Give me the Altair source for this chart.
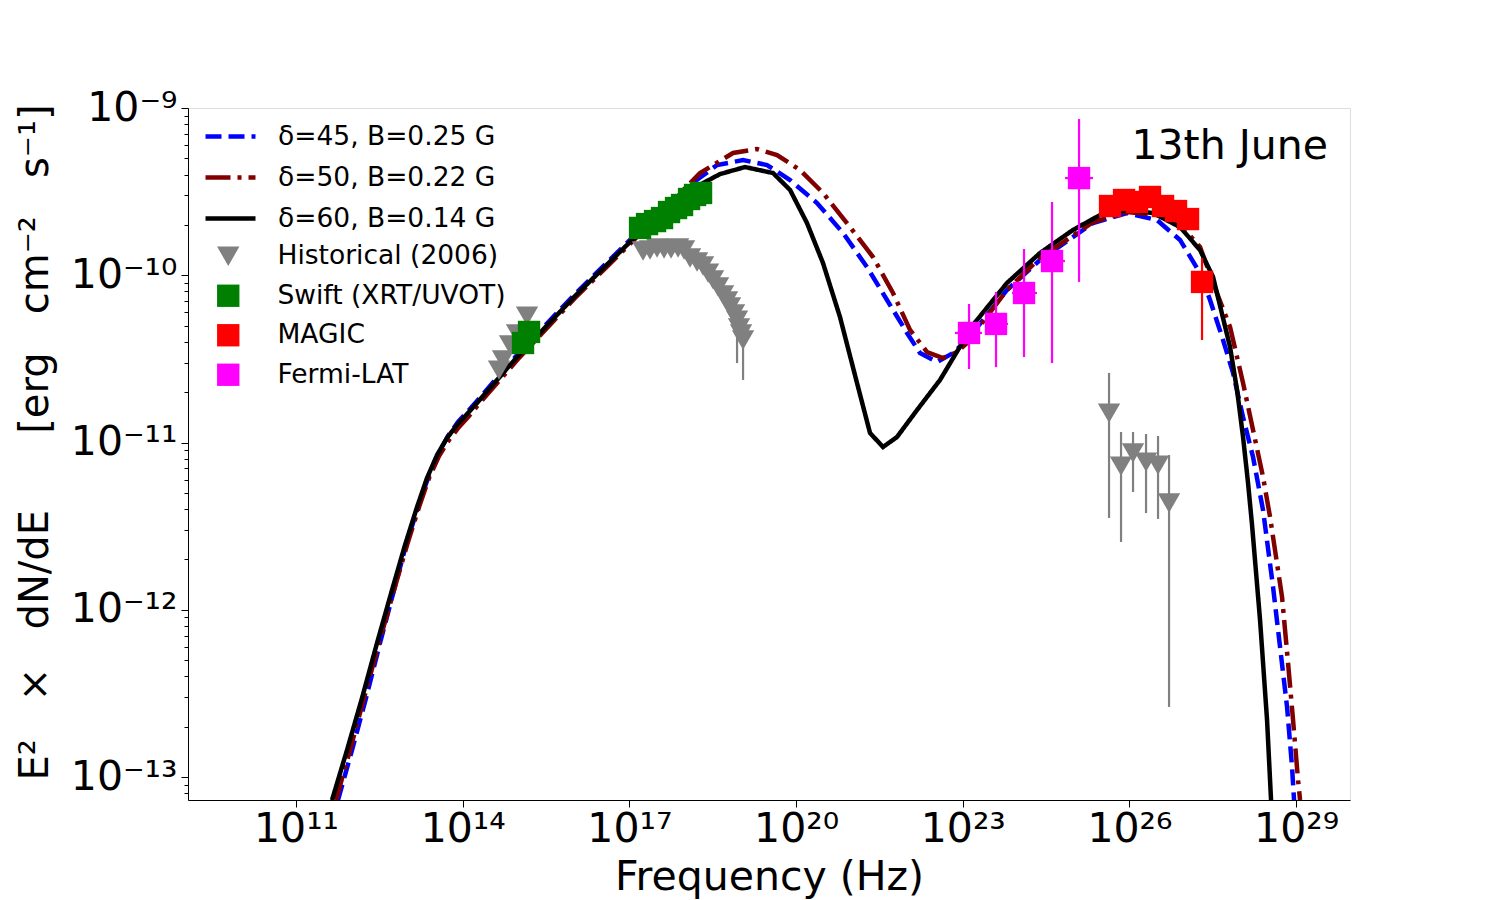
import altair as alt
import pandas as pd

FONT = "DejaVu Sans"

# ---------------- model curves: log10(nu / Hz), log10(nuFnu / erg cm^-2 s^-1) ----------------
models = ["δ=45, B=0.25 G", "δ=50, B=0.22 G", "δ=60, B=0.14 G"]
model_colors = ["#0000ff", "#800000", "#000000"]
model_dash = [[16, 7], [25, 7, 4, 7], [1, 0]]

m45_lognu = [11.756, 12.008, 12.260, 12.512, 12.764, 12.980, 13.196, 13.376, 13.556, 13.736,
             13.916, 14.096, 14.258, 14.618, 14.978, 16.022, 17.048,
             18.092, 18.578, 19.046, 19.478, 19.892, 20.377, 20.845, 21.277,
             21.637, 21.997, 22.231, 22.537, 22.825, 23.077, 23.797, 24.391, 25.345, 25.957,
             26.497, 26.911, 27.271, 27.451, 27.685, 27.865, 28.045, 28.225, 28.405, 28.585,
             28.711, 28.837, 28.927, 28.963]
m45_logf = [-13.138, -12.839, -12.528, -12.199, -11.882, -11.613, -11.386, -11.212, -11.069, -10.961,
            -10.877, -10.812, -10.752, -10.614, -10.477, -10.112, -9.777,
            -9.460, -9.341, -9.311, -9.341, -9.431, -9.568, -9.747, -9.951,
            -10.148, -10.345, -10.465, -10.519, -10.465, -10.387, -10.088, -9.909, -9.688, -9.628,
            -9.670, -9.789, -9.987, -10.148, -10.387, -10.584, -10.848, -11.087, -11.404, -11.864,
            -12.223, -12.581, -12.940, -13.138]

m50_lognu = [11.720, 11.972, 12.224, 12.494, 12.764, 12.998, 13.214, 13.394, 13.574, 13.754,
             13.934, 14.114, 14.276, 14.636, 14.996, 16.022, 17.048,
             18.272, 18.866, 19.298, 19.658, 20.072, 20.485, 20.971, 21.385,
             21.745, 22.051, 22.357, 22.645, 22.897, 23.077, 23.797, 24.391, 25.345, 25.957,
             26.551, 27.001, 27.271, 27.505, 27.811, 28.045, 28.225, 28.405, 28.531, 28.747,
             28.855, 28.945, 29.035, 29.071]
m50_logf = [-13.138, -12.839, -12.528, -12.199, -11.882, -11.613, -11.386, -11.212, -11.081, -10.985,
            -10.907, -10.842, -10.776, -10.638, -10.501, -10.136, -9.801,
            -9.389, -9.269, -9.245, -9.281, -9.371, -9.508, -9.712, -9.891,
            -10.106, -10.327, -10.459, -10.495, -10.459, -10.405, -10.088, -9.897, -9.682, -9.622,
            -9.640, -9.729, -9.831, -10.046, -10.309, -10.644, -10.925, -11.206, -11.445, -11.924,
            -12.318, -12.659, -13.018, -13.138]

m60_lognu = [11.648, 11.918, 12.188, 12.458, 12.728, 12.962, 13.178, 13.358, 13.538, 13.718,
             13.898, 14.078, 14.258, 14.618, 14.978, 16.022, 17.048,
             18.092, 18.632, 19.082, 19.586, 19.892, 20.197, 20.485, 20.791,
             21.097, 21.331, 21.565, 21.817, 22.177, 22.591, 23.185, 23.797, 24.391, 24.985,
             25.471, 25.957, 26.425, 26.911, 27.271, 27.505, 27.811, 27.937, 28.045, 28.135,
             28.207, 28.351, 28.477, 28.549]
m60_logf = [-13.138, -12.839, -12.528, -12.199, -11.882, -11.613, -11.386, -11.212, -11.075, -10.973,
            -10.895, -10.830, -10.764, -10.626, -10.489, -10.124, -9.789,
            -9.490, -9.395, -9.353, -9.389, -9.490, -9.688, -9.927, -10.250,
            -10.644, -10.943, -11.027, -10.967, -10.806, -10.626, -10.297, -10.046, -9.867, -9.729,
            -9.640, -9.610, -9.628, -9.712, -9.849, -10.010, -10.429, -10.686, -10.967, -11.242,
            -11.493, -12.061, -12.659, -13.138]

# ---------------- data points ----------------
instruments = ["Historical (2006)", "Swift (XRT/UVOT)", "MAGIC", "Fermi-LAT"]
inst_colors = ["#808080", "#008000", "#ff0000", "#ff00ff"]
inst_shapes = ["triangle-down", "square", "square", "square"]

hist_lognu = [14.654, 14.726, 14.852, 14.978, 15.158,
              17.246, 17.372, 17.498, 17.624, 17.750, 17.876, 17.984, 18.092, 18.218, 18.326,
              18.416, 18.506, 18.596, 18.686, 18.758, 18.812, 18.884, 18.938, 18.974, 19.010, 19.046,
              25.633, 25.849, 26.065, 26.299, 26.515, 26.713]
hist_logf = [-10.567, -10.507, -10.417, -10.351, -10.244,
             -9.855, -9.849, -9.837, -9.843, -9.843, -9.837, -9.849, -9.897, -9.921, -9.945,
             -9.987, -10.028, -10.070, -10.118, -10.154, -10.190, -10.232, -10.268, -10.315, -10.351, -10.387,
             -10.824, -11.141, -11.063, -11.117, -11.135, -11.362]
# error bars of historical points (log10 values)
hist_err_lognu = [18.938, 19.046, 25.633, 25.849, 26.065, 26.299, 26.515, 26.713]
hist_err_hi = [-10.268, -10.387, -10.584, -10.937, -10.937, -10.949, -10.961, -11.075]
hist_err_lo = [-10.525, -10.626, -11.451, -11.595, -11.296, -11.422, -11.457, -12.581]

swift_lognu = [15.086, 15.194, 17.192, 17.318, 17.462, 17.588, 17.714, 17.840, 17.948, 18.074, 18.182, 18.290]
swift_logf = [-10.405, -10.339, -9.717, -9.694, -9.676, -9.658, -9.622, -9.598, -9.580, -9.544, -9.520, -9.508]

magic_lognu = [25.651, 25.903, 26.137, 26.371, 26.605, 26.839, 27.055, 27.307]
magic_logf = [-9.586, -9.550, -9.562, -9.532, -9.586, -9.616, -9.664, -10.040]
magic_err_lognu = [27.307]
magic_err_hi = [-9.897]
magic_err_lo = [-10.387]

fermi_lognu = [23.113, 23.599, 24.103, 24.607, 25.093]
fermi_logf = [-10.345, -10.291, -10.106, -9.915, -9.419]
fermi_err_hi = [-10.172, -10.100, -9.843, -9.562, -9.066]
fermi_err_lo = [-10.561, -10.549, -10.489, -10.525, -10.040]
fermi_nu_lo = [22.861, 23.401, 23.887, 24.391, 24.841]
fermi_nu_hi = [23.347, 23.815, 24.337, 24.841, 25.345]

# axis ranges / ticks
x_domain_log = [9.056, 29.97]
y_domain_log = [-13.1375, -9.0]
x_major_exp = [11, 14, 17, 20, 23, 26, 29]
y_major_exp = [-9, -10, -11, -12, -13]

# ---------------- build tables ----------------
sup = str.maketrans("-0123456789", "⁻⁰¹²³⁴⁵⁶⁷⁸⁹")


def p10(v):
    return 10.0 ** v


curve_rows = []
for name, lx, ly in zip(models, [m45_lognu, m50_lognu, m60_lognu], [m45_logf, m50_logf, m60_logf]):
    assert len(lx) == len(ly)
    for i, (a, b) in enumerate(zip(lx, ly)):
        curve_rows.append({"model": name, "nu": p10(a), "flux": p10(b), "idx": i})
curves = pd.DataFrame(curve_rows)

pt_rows = []
for name, lx, ly in zip(instruments,
                        [hist_lognu, swift_lognu, magic_lognu, fermi_lognu],
                        [hist_logf, swift_logf, magic_logf, fermi_logf]):
    assert len(lx) == len(ly)
    for a, b in zip(lx, ly):
        pt_rows.append({"instrument": name, "nu": p10(a), "flux": p10(b)})
points = pd.DataFrame(pt_rows)

hist_err = pd.DataFrame({"nu": [p10(v) for v in hist_err_lognu],
                         "lo": [p10(v) for v in hist_err_lo],
                         "hi": [p10(v) for v in hist_err_hi]})
magic_err = pd.DataFrame({"nu": [p10(v) for v in magic_err_lognu],
                          "lo": [p10(v) for v in magic_err_lo],
                          "hi": [p10(v) for v in magic_err_hi]})
fermi_err = pd.DataFrame({"nu": [p10(v) for v in fermi_lognu],
                          "flux": [p10(v) for v in fermi_logf],
                          "lo": [p10(v) for v in fermi_err_lo],
                          "hi": [p10(v) for v in fermi_err_hi],
                          "nlo": [p10(v) for v in fermi_nu_lo],
                          "nhi": [p10(v) for v in fermi_nu_hi]})

# ---------------- scales & axes ----------------
x_scale = alt.Scale(type="log", domain=[p10(v) for v in x_domain_log], nice=False)
y_scale = alt.Scale(type="log", domain=[p10(v) for v in y_domain_log], nice=False)

x_label_expr = " : ".join(
    f"round(log(datum.value)/LN10) == {e} ? '10{str(e).translate(sup)}'" for e in x_major_exp) + " : ''"
y_label_expr = ("abs(log(datum.value)/LN10 - round(log(datum.value)/LN10)) > 0.001 ? '' : "
                + " : ".join(f"round(log(datum.value)/LN10) == {e} ? '10{str(e).translate(sup)}'"
                             for e in y_major_exp) + " : ''")

y_tick_values = []
for e in range(-14, -8):
    for k in range(1, 10):
        v = k * 10.0 ** e
        if p10(y_domain_log[0]) <= v <= p10(y_domain_log[1]) * 1.0001:
            y_tick_values.append(v)

sp = "\u00a0"
y_title = "E²" + sp * 3 + "×" + sp * 3 + "dN/dE" + sp * 6 + "[erg" + sp * 3 + "cm⁻²" + sp * 3 + "s⁻¹]"

x_axis = alt.Axis(values=[p10(e) for e in x_major_exp], labelExpr=x_label_expr, title="Frequency (Hz)",
                  titleFontSize=41, titleFont=FONT, titleFontWeight="normal", titleColor="black",
                  titlePadding=8, labelFontSize=41, labelFont=FONT, labelColor="black",
                  labelPadding=2, tickSize=7, tickWidth=1, tickColor="black", domainColor="black",
                  grid=False, labelOverlap=False, labelFlush=False, labelBound=False)
y_axis = alt.Axis(values=y_tick_values, labelExpr=y_label_expr,
                  title=y_title, titleY=334,
                  titleFontSize=40, titleFont=FONT, titleFontWeight="normal", titleColor="black",
                  titlePadding=15, labelFontSize=41, labelFont=FONT, labelColor="black",
                  labelPadding=4,
                  tickSize={"condition": {"test": "abs(log(datum.value)/LN10 - round(log(datum.value)/LN10)) < 0.001",
                                          "value": 7}, "value": 4},
                  tickWidth=1, tickColor="black", domainColor="black",
                  grid=False, labelOverlap=False, labelFlush=False, labelBound=False)

X = alt.X("nu:Q", scale=x_scale, axis=x_axis)
Y = alt.Y("flux:Q", scale=y_scale, axis=y_axis)

line_legend = alt.Legend(orient="none", legendX=15, legendY=1, title=None, labelFontSize=26.5,
                         labelFont=FONT, labelColor="black", symbolType="stroke", symbolSize=2500,
                         symbolStrokeWidth=4.5, labelOffset=20, rowPadding=-1, labelLimit=600)
pt_legend = alt.Legend(orient="none", legendX=27, legendY=135, title=None, labelFontSize=26.5,
                       labelFont=FONT, labelColor="black", symbolSize=500, symbolStrokeWidth=0,
                       labelOffset=36, rowPadding=12.5, symbolOpacity=1, labelLimit=600)

lines = alt.Chart(curves).mark_line(clip=True, strokeWidth=4.5).encode(
    x=X, y=Y,
    color=alt.Color("model:N", scale=alt.Scale(domain=models, range=model_colors), legend=line_legend),
    strokeDash=alt.StrokeDash("model:N", scale=alt.Scale(domain=models, range=model_dash), legend=line_legend),
    order=alt.Order("idx:Q"),
)

hist_bars = alt.Chart(hist_err).mark_rule(clip=True, strokeWidth=2.2, color="#808080").encode(
    x="nu:Q", y="lo:Q", y2="hi:Q")
magic_bars = alt.Chart(magic_err).mark_rule(clip=True, strokeWidth=2.2, color="#ff0000").encode(
    x="nu:Q", y="lo:Q", y2="hi:Q")
fermi_vbars = alt.Chart(fermi_err).mark_rule(clip=True, strokeWidth=2.2, color="#ff00ff").encode(
    x="nu:Q", y="lo:Q", y2="hi:Q")
fermi_hbars = alt.Chart(fermi_err).mark_rule(clip=True, strokeWidth=2.2, color="#ff00ff").encode(
    x="nlo:Q", x2="nhi:Q", y="flux:Q")

pts = alt.Chart(points).mark_point(filled=True, opacity=1, size=500, strokeWidth=0, clip=True).encode(
    x=X, y=Y,
    fill=alt.Fill("instrument:N", scale=alt.Scale(domain=instruments, range=inst_colors), legend=pt_legend),
    shape=alt.Shape("instrument:N", scale=alt.Scale(domain=instruments, range=inst_shapes), legend=pt_legend),
)

chart = alt.layer(lines, hist_bars, magic_bars, fermi_vbars, fermi_hbars, pts).properties(
    width=1162, height=692,
    autosize=alt.AutoSizeParams(type="none"),
    padding={"left": 180, "top": 100, "right": 120, "bottom": 100},
    title=alt.TitleParams("13th June", anchor="end", orient="top", frame="group", fontSize=41,
                          font=FONT, fontWeight="normal", color="black", offset=-60, dx=-22, dy=53,
                          baseline="alphabetic"),
).configure_view(stroke="black", strokeWidth=1.2).configure(background="white")

chart.save("out.html", embed_options={"renderer": "svg", "actions": False})
